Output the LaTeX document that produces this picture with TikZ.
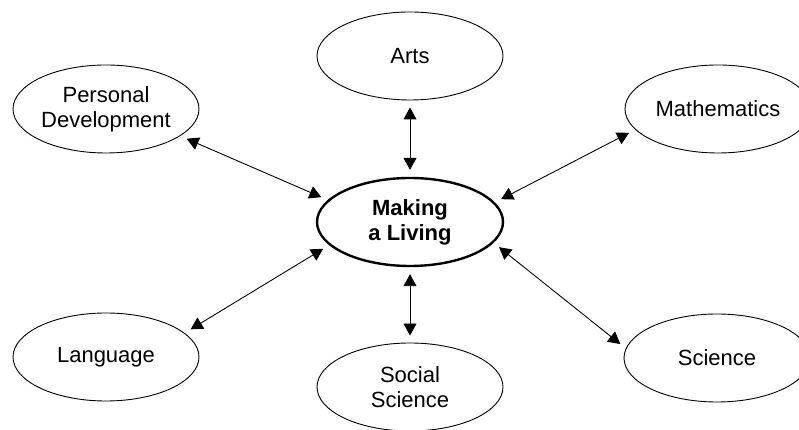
\documentclass[tikz,border=0pt]{standalone}
\usepackage{fontspec}
\setmainfont{Liberation Sans}
\usetikzlibrary{shapes.geometric,arrows.meta}
\begin{document}
\begin{tikzpicture}[x=1pt,y=1pt,
  topic/.style={ellipse,draw,line width=0.9pt,minimum width=186pt,minimum height=88pt,inner sep=0pt,align=center,font=\fontsize{22}{25}\selectfont},
  hub/.style={topic,line width=2.4pt,font=\fontsize{22}{25}\selectfont\bfseries},
  link/.style={{Triangle[length=12pt,width=13pt]}-{Triangle[length=12pt,width=13pt]},line width=0.9pt,shorten <=7pt,shorten >=7pt}]
\useasboundingbox (0,0) rectangle (799,430);
\node[hub] (mid) at (410,208){Making\\a Living};
\node[topic] (arts) at (410,374){Arts};
\node[topic] (pers) at (106,321){Personal\\Development};
\node[topic] (math) at (718,321){Mathematics};
\node[topic] (lang) at (106,73){Language};
\node[topic] (soc) at (410,43){Social\\Science};
\node[topic] (sci) at (717,72){Science};
\draw[link] (arts.south) -- (mid.north);
\draw[link] (soc.north) -- (mid.south);
\draw[link] (pers.340) -- (mid.165);
\draw[link] (math.194) -- (mid.13);
\draw[link] (lang.17) -- (mid.196);
\draw[link] (sci.174) -- (mid.346);
\end{tikzpicture}
\end{document}
